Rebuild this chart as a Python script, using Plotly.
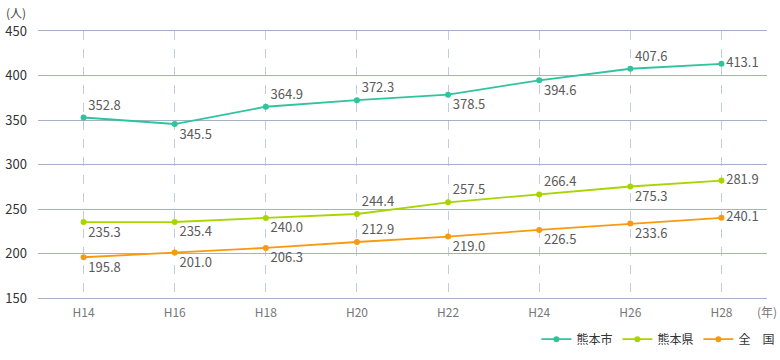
import plotly.graph_objects as go

years = ["H14", "H16", "H18", "H20", "H22", "H24", "H26", "H28"]
kumamoto_city = [352.8, 345.5, 364.9, 372.3, 378.5, 394.6, 407.6, 413.1]
kumamoto_pref = [235.3, 235.4, 240.0, 244.4, 257.5, 266.4, 275.3, 281.9]
national = [195.8, 201.0, 206.3, 212.9, 219.0, 226.5, 233.6, 240.1]

series_names = ["熊本市", "熊本県", "全\u3000国"]
colors = ["#30c39c", "#a8d500", "#f89a10"]
label_pos = [
    ["top right", "bottom right", "top right", "top right", "bottom right", "bottom right", "top right", "middle right"],
    ["bottom right", "bottom right", "bottom right", "top right", "top right", "top right", "bottom right", "middle right"],
    ["bottom right", "bottom right", "bottom right", "top right", "bottom right", "bottom right", "bottom right", "middle right"],
]
y_ticks = [150, 200, 250, 300, 350, 400, 450]

FONT = "Noto Sans CJK JP, Noto Sans, sans-serif"

fig = go.Figure()
for name, vals, col, pos in zip(series_names, [kumamoto_city, kumamoto_pref, national], colors, label_pos):
    fig.add_trace(go.Scatter(
        x=list(range(len(years))), y=vals, name=name,
        mode="lines+markers+text",
        line=dict(color=col, width=1.8),
        marker=dict(color=col, size=6),
        text=[f"{v:.1f}" for v in vals],
        textposition=pos,
        textfont=dict(family=FONT, size=13, color="#5a5a5a"),
        cliponaxis=False,
    ))

fig.update_layout(
    width=780, height=360,
    margin=dict(l=38, r=13, t=31, b=62, autoexpand=False),
    paper_bgcolor="white", plot_bgcolor="white",
    font=dict(family=FONT, color="#444444"),
    showlegend=True,
    legend=dict(orientation="h", x=1.017, xanchor="right", y=-0.1, yanchor="top",
                font=dict(size=12, color="#333333"), itemwidth=30, entrywidth=36,
                traceorder="normal"),
    xaxis=dict(
        range=[-0.5, 7.5], automargin=False,
        tickmode="array", tickvals=list(range(len(years))), ticktext=years,
        showgrid=True, gridcolor="#c2cce0", griddash="dash", gridwidth=1,
        zeroline=False, showline=True, mirror=True, linecolor="#a4b1c9", linewidth=1,
        ticks="",
        tickfont=dict(size=12, color="#777777"),
        ticklabelstandoff=4,
    ),
    yaxis=dict(
        range=[150, 450], tickvals=y_ticks, automargin=False,
        showgrid=True, gridcolor="#a4b1c9", gridwidth=1,
        zeroline=False, showline=False, ticks="",
        tickfont=dict(size=13, color="#333333"),
        ticklabelstandoff=10,
    ),
    annotations=[
        dict(text="(人)", xref="paper", yref="paper", x=-0.047, y=1.0, yshift=19,
             xanchor="left", yanchor="middle", showarrow=False,
             font=dict(size=12, color="#444444")),
        dict(text="(年)", xref="paper", yref="paper", x=1.016, y=0, yshift=-13,
             xanchor="right", yanchor="middle", showarrow=False,
             font=dict(size=12, color="#777777")),
    ],
)

fig.write_html("out.html", config={"displayModeBar": False},
               post_script="document.body.style.margin='0';")
